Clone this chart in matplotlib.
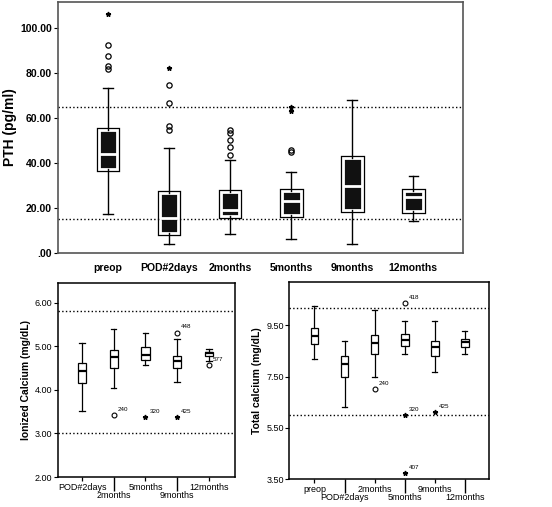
import numpy as np
import matplotlib.pyplot as plt
import matplotlib.patheffects as pe

plt.rcParams['font.family'] = ['Liberation Sans', 'DejaVu Sans']

# ---- PTH (top panel) ----
pth_groups = ["preop", "POD#2days", "2months", "5months", "9months", "12months"]
pth_wlo = [17.2, 4.1, 8.3, 6.2, 4.0, 14.4]
pth_q1 = [37.5, 8.9, 16.3, 17.0, 19.3, 18.8]
pth_med = [44.1, 15.6, 19.0, 23.1, 29.9, 24.9]
pth_q3 = [54.5, 26.7, 27.0, 27.4, 42.2, 27.6]
pth_whi = [73.2, 46.5, 41.5, 36.1, 67.9, 34.4]
pth_circ_x = [1, 1, 1, 1, 2, 2, 2, 2, 3, 3, 3, 3, 3, 4, 4]
pth_circ_y = [92.3, 87.7, 83.0, 81.9, 74.5, 66.7, 56.6, 54.8, 54.5, 53.3, 50.4, 47.1, 43.4, 45.9, 44.9]
pth_star_x = [1, 2, 4, 4]
pth_star_y = [106.2, 82.2, 64.9, 63.3]
pth_ref = [65, 15]

# ---- Ionized calcium (bottom left) ----
ica_groups = ["POD#2days", "2months", "5months", "9months", "12months"]
ica_wlo = [3.51, 4.05, 4.57, 4.19, 4.66]
ica_q1 = [4.15, 4.51, 4.68, 4.50, 4.77]
ica_med = [4.42, 4.76, 4.80, 4.66, 4.84]
ica_q3 = [4.62, 4.91, 4.97, 4.77, 4.87]
ica_whi = [5.07, 5.39, 5.31, 5.16, 4.94]
ica_circ = [(2, 3.42, "240"), (4, 5.31, "448"), (5, 4.56, "577")]
ica_star = [(3, 3.38, "320"), (4, 3.37, "425")]
ica_ref = [5.8, 3.0]

# ---- Total calcium (bottom right) ----
tca_groups = ["preop", "POD#2days", "2months", "5months", "9months", "12months"]
tca_wlo = [8.19, 6.30, 7.47, 8.40, 7.69, 8.40]
tca_q1 = [8.77, 7.49, 8.38, 8.69, 8.30, 8.66]
tca_med = [9.10, 8.01, 8.82, 8.92, 8.66, 8.86]
tca_q3 = [9.39, 8.30, 9.14, 9.18, 8.88, 8.97]
tca_whi = [10.27, 8.88, 10.09, 9.68, 9.68, 9.29]
tca_circ = [(3, 7.01, "240"), (4, 10.37, "418")]
tca_star = [(4, 6.0, "320"), (4, 3.75, "407"), (5, 6.13, "425")]
tca_ref = [10.2, 6.0]


def stats(lo, q1, med, q3, hi):
    return [dict(whislo=a, q1=b, med=c, q3=d, whishi=e, fliers=[])
            for a, b, c, d, e in zip(lo, q1, med, q3, hi)]


fig = plt.figure(figsize=(5.52, 5.07), dpi=100)

# top panel
ax = fig.add_axes([0.105, 0.501, 0.734, 0.495])
bp = ax.bxp(stats(pth_wlo, pth_q1, pth_med, pth_q3, pth_whi),
            positions=range(1, 7), widths=0.31, patch_artist=True,
            boxprops=dict(facecolor='#111111', edgecolor='white', linewidth=2.0),
            medianprops=dict(color='white', linewidth=2.0),
            whiskerprops=dict(color='black', linewidth=1.0),
            capprops=dict(color='black', linewidth=1.0), capwidths=0.15)
for b in bp['boxes']:
    b.set_path_effects([pe.Stroke(linewidth=3.8, foreground='black'), pe.Normal()])
ax.plot(pth_circ_x, pth_circ_y, 'o', mfc='none', mec='black', ms=3.8, mew=0.9)
ax.plot(pth_star_x, pth_star_y, '*', color='black', ms=3.5)
for r in pth_ref:
    ax.axhline(r, color='black', ls=':', lw=1)
ax.set_xlim(0.18, 6.82)
ax.set_ylim(0, 111.5)
ax.set_yticks([0, 20, 40, 60, 80, 100])
ax.set_yticklabels([".00", "20.00", "40.00", "60.00", "80.00", "100.00"],
                   fontsize=7.5, fontweight='bold')
ax.set_xticks(range(1, 7))
ax.set_xticklabels(pth_groups, fontsize=7.5, fontweight='bold')
ax.tick_params(axis='x', length=0, pad=7)
ax.tick_params(axis='y', length=3, width=0.8, pad=1.5)
ax.set_ylabel("PTH (pg/ml)", fontsize=10, fontweight='bold', labelpad=2)
for s in ax.spines.values():
    s.set_color('#555555')
    s.set_linewidth(1.2)


def small_panel(rect, groups, lo, q1, med, q3, hi, circ, star, ref,
                xlim, ylim, yt, ylab, row1, row2, yticklabels):
    a = fig.add_axes(rect)
    a.bxp(stats(lo, q1, med, q3, hi), positions=range(1, len(groups) + 1),
          widths=0.26, patch_artist=True,
          boxprops=dict(facecolor='white', edgecolor='black', linewidth=0.9),
          medianprops=dict(color='black', linewidth=1.6),
          whiskerprops=dict(color='black', linewidth=0.9),
          capprops=dict(color='black', linewidth=0.9), capwidths=0.17)
    for x, y, t in circ:
        a.plot(x, y, 'o', mfc='none', mec='black', ms=3.5, mew=0.8)
        a.annotate(t, (x, y), xytext=(3, 3), textcoords='offset points', fontsize=4.5)
    for x, y, t in star:
        a.plot(x, y, '*', color='black', ms=3.5)
        a.annotate(t, (x, y), xytext=(3, 3), textcoords='offset points', fontsize=4.5)
    for r in ref:
        a.axhline(r, color='black', ls=':', lw=1)
    a.set_xlim(*xlim)
    a.set_ylim(*ylim)
    a.set_yticks(yt)
    a.set_yticklabels(yticklabels, fontsize=6.5)
    a.set_xticks([i + 1 for i in row1])
    a.set_xticklabels([groups[i] for i in row1], fontsize=6.5)
    a.set_xticks([i + 1 for i in row2], minor=True)
    a.set_xticklabels([groups[i] for i in row2], minor=True, fontsize=6.5)
    a.tick_params(axis='x', which='major', length=3, width=0.9, pad=1)
    a.tick_params(axis='x', which='minor', length=10, width=1.0, pad=0)
    a.tick_params(axis='y', length=3, width=0.8, pad=1)
    a.set_ylabel(ylab, fontsize=7.5, fontweight='bold', labelpad=3)
    for s in a.spines.values():
        s.set_linewidth(1.1)
    return a


small_panel([0.105, 0.059, 0.321, 0.383], ica_groups, ica_wlo, ica_q1, ica_med,
            ica_q3, ica_whi, ica_circ, ica_star, ica_ref,
            (0.24, 5.83), (2.0, 6.45), [2, 3, 4, 5, 6], "Ionized Calcium (mg/dL)",
            [0, 2, 4], [1, 3], ["2.00", "3.00", "4.00", "5.00", "6.00"])

small_panel([0.524, 0.055, 0.362, 0.389], tca_groups, tca_wlo, tca_q1, tca_med,
            tca_q3, tca_whi, tca_circ, tca_star, tca_ref,
            (0.16, 6.81), (3.5, 11.2), [3.5, 5.5, 7.5, 9.5], "Total calcium (mg/dL)",
            [0, 2, 4], [1, 3, 5], ["3.50", "5.50", "7.50", "9.50"])

fig.savefig("out.png", dpi=100)
